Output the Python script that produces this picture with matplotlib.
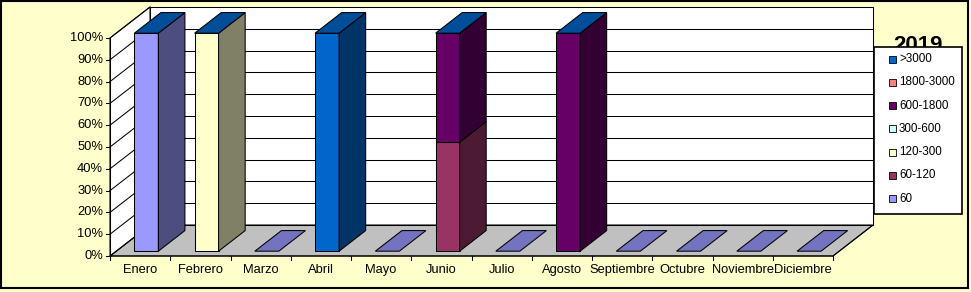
import numpy as np
import matplotlib
matplotlib.use("Agg")
import matplotlib.pyplot as plt
from matplotlib.patches import Polygon, Rectangle
from matplotlib import colors as mcolors

plt.rcParams["font.family"] = ["Liberation Sans", "DejaVu Sans"]

# ===================== data =====================
months = ["Enero", "Febrero", "Marzo", "Abril", "Mayo", "Junio", "Julio",
          "Agosto", "Septiembre", "Octubre", "Noviembre", "Diciembre"]
series = ["60", "60-120", "120-300", "300-600", "600-1800", "1800-3000", ">3000"]
series_colors = ["#9999FF", "#993366", "#FFFFCC", "#CCFFFF", "#660066", "#FF8080", "#0066CC"]

pct_60        = [100, 0,   0, 0,   0, 0,  0, 0,   0, 0, 0, 0]
pct_60_120    = [0,   0,   0, 0,   0, 50, 0, 0,   0, 0, 0, 0]
pct_120_300   = [0,   100, 0, 0,   0, 0,  0, 0,   0, 0, 0, 0]
pct_300_600   = [0,   0,   0, 0,   0, 0,  0, 0,   0, 0, 0, 0]
pct_600_1800  = [0,   0,   0, 0,   0, 50, 0, 100, 0, 0, 0, 0]
pct_1800_3000 = [0,   0,   0, 0,   0, 0,  0, 0,   0, 0, 0, 0]
pct_3000      = [0,   0,   0, 100, 0, 0,  0, 0,   0, 0, 0, 0]
values = [pct_60, pct_60_120, pct_120_300, pct_300_600, pct_600_1800, pct_1800_3000, pct_3000]

yticks = list(range(0, 101, 10))
title = "2019"

# ===================== layout (pixels) =====================
W, H = 971, 292
PX_CAT = 60.25          # pixels per category
PX_PCT = 2.18           # pixels per percent
ORG_X, ORG_Y = 110, 256
DX = 40 / PX_CAT        # full depth, x
DY = 31 / PX_PCT        # full depth, y
F0, F1 = 0.155, 0.82    # bar depth range
BAR_W = 24 / PX_CAT
LW = 0.75
BG = "#FFFFCC"


def shade(c, k):
    r, g, b = mcolors.to_rgb(c)
    return (r * k, g * k, b * k)


fig = plt.figure(figsize=(W / 100, H / 100), dpi=100, facecolor=BG)
ax = fig.add_axes([0, 0, 1, 1])
ax.set_xlim(-ORG_X / PX_CAT, (W - ORG_X) / PX_CAT)
ax.set_ylim((ORG_Y - H) / PX_PCT, ORG_Y / PX_PCT)
ax.set_facecolor("none")
ax.axis("off")

n = len(months)

# walls and floor
floor = [(0, 0), (n, 0), (n + DX, DY), (DX, DY)]
ax.add_patch(Polygon(floor, closed=True, fc="#C0C0C0", ec="black", lw=LW, zorder=1))
back = [(DX, DY), (n + DX, DY), (n + DX, 100 + DY), (DX, 100 + DY)]
ax.add_patch(Polygon(back, closed=True, fc="white", ec="black", lw=LW, zorder=1))
left = [(0, 0), (DX, DY), (DX, 100 + DY), (0, 100)]
ax.add_patch(Polygon(left, closed=True, fc="white", ec="black", lw=LW, zorder=1))
for v in yticks[1:-1]:
    ax.plot([DX, n + DX], [v + DY, v + DY], color="black", lw=LW, zorder=1.5)
for v in yticks[1:]:
    ax.plot([0, DX], [v, v + DY], color="black", lw=LW, zorder=1.5)
# floor outline on top
ax.add_patch(Polygon(floor, closed=True, fc="none", ec="black", lw=LW, zorder=1.6))

# axis ticks
for v in yticks:
    ax.plot([0, -4 / PX_CAT], [v, v], color="black", lw=LW, zorder=2)
    ax.text(-7 / PX_CAT, v, f"{v}%", ha="right", va="center", fontsize=9.3)
for i in range(n + 1):
    ax.plot([i, i], [0, -4 / PX_PCT], color="black", lw=LW, zorder=2)
ax.plot([0, 0], [0, 100], color="black", lw=LW, zorder=2)
for i, m in enumerate(months):
    ax.text(i + 0.5, -14 / PX_PCT, m, ha="center", va="center", fontsize=9.3)

# bars
x = np.arange(n) + 0.5 + F0 * DX
bottom = np.zeros(n)
dd = F1 - F0
for name, col, vals in zip(series, series_colors, values):
    vals = np.array(vals, dtype=float)
    mask = vals > 0
    ax.bar(x[mask], vals[mask], width=BAR_W, bottom=bottom[mask] + F0 * DY,
           color=col, edgecolor="black", linewidth=LW, zorder=3)
    for xi, b, h in zip(x[mask], bottom[mask], vals[mask]):
        xr = xi + BAR_W / 2
        y0 = b + F0 * DY
        side = [(xr, y0), (xr + dd * DX, y0 + dd * DY),
                (xr + dd * DX, y0 + h + dd * DY), (xr, y0 + h)]
        ax.add_patch(Polygon(side, closed=True, fc=shade(col, 0.5), ec="black",
                             lw=LW, zorder=3))
    bottom = bottom + vals

top_full = shade(series_colors[-1], 0.75)
top_empty = shade(series_colors[0], 0.75)
for xi, tot in zip(x, bottom):
    xl = xi - BAR_W / 2
    xr = xi + BAR_W / 2
    yt = tot + F0 * DY
    top = [(xl, yt), (xr, yt), (xr + dd * DX, yt + dd * DY), (xl + dd * DX, yt + dd * DY)]
    ax.add_patch(Polygon(top, closed=True, fc=top_full if tot > 0 else top_empty,
                         ec="black", lw=LW, zorder=3))

# title (partly hidden by legend)
fig.text(918 / W, 1 - 45 / H, title, ha="center", va="center", fontsize=16,
         fontweight="bold", zorder=1)

# legend box
lg_l, lg_t, lg_r, lg_b = 874, 47, 962, 214
fig.patches.append(Rectangle((lg_l / W, 1 - lg_b / H), (lg_r - lg_l) / W, (lg_b - lg_t) / H,
                             transform=fig.transFigure, fc="white", ec="black",
                             lw=1.2, zorder=5))
for k, (name, col) in enumerate(zip(series[::-1], series_colors[::-1])):
    yc = 59 + k * 23.3
    fig.patches.append(Rectangle((889 / W, 1 - (yc + 3.5) / H), 7 / W, 7 / H,
                                 transform=fig.transFigure, fc=col, ec="black",
                                 lw=0.6, zorder=6))
    fig.text(899 / W, 1 - yc / H, name, ha="left", va="center", fontsize=8.4, zorder=7)

# outer border
fig.patches.append(Rectangle((1 / W, 4 / H), 967 / W, 287 / H, transform=fig.transFigure,
                             fc="none", ec="black", lw=1.5, zorder=8))

fig.savefig("out.png", dpi=100, facecolor=BG)
